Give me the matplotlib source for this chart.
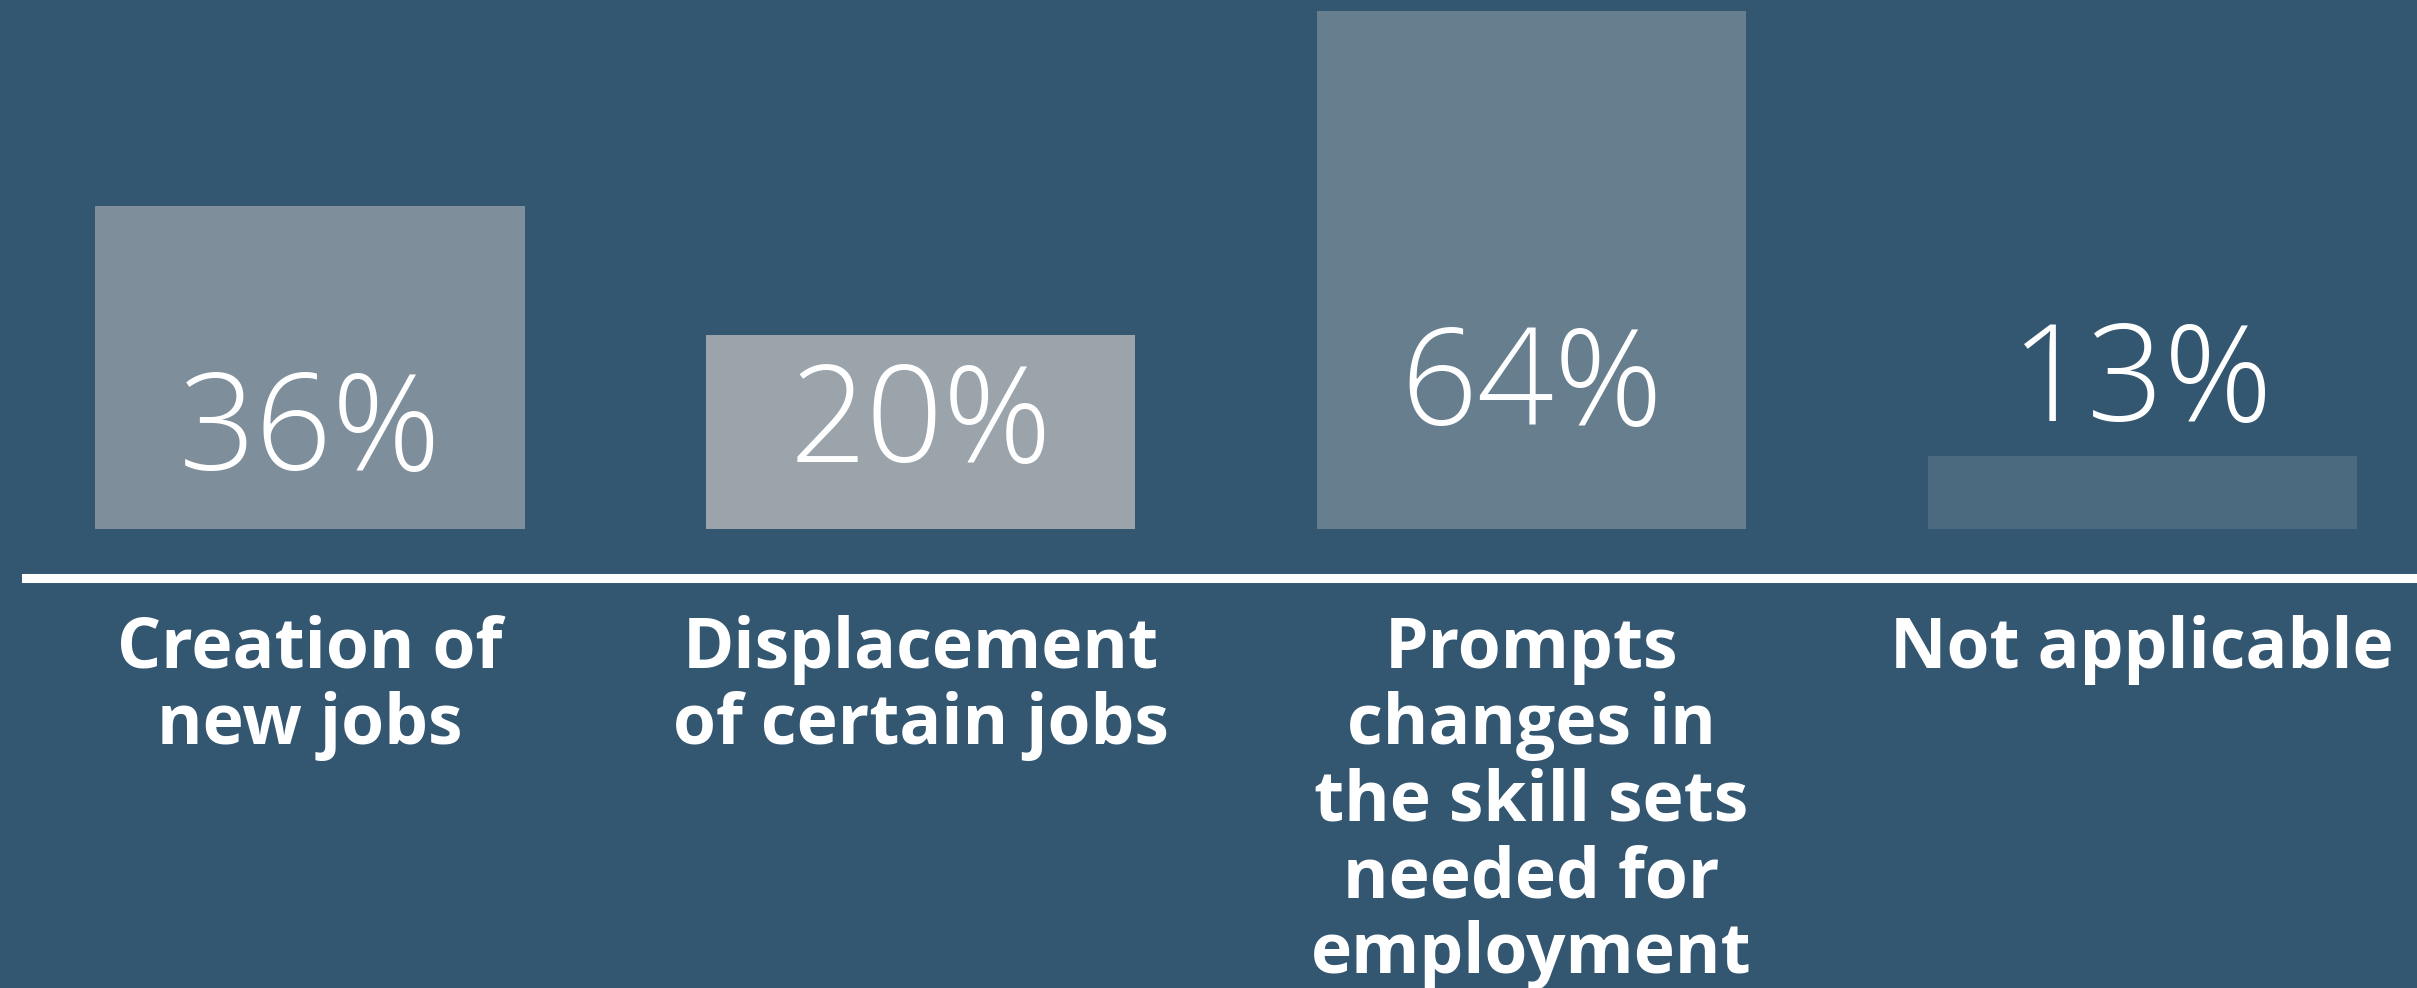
import numpy as np
import matplotlib
matplotlib.use("Agg")
import matplotlib.pyplot as plt

# --------------------------------
# data
# --------------------------------
categories = [
    "Creation of\nnew jobs",
    "Displacement\nof certain jobs",
    "Prompts\nchanges in\nthe skill sets\nneeded for\nemployment",
    "Not applicable",
]
values = [36, 20, 64, 13]            # printed percentages
bar_heights = [40, 24, 64, 9]        # drawn heights (the graphic is not to scale)

# layout / style
label_base = [7.3, 8.3, 12.9, 13.4]  # baseline of each percentage label
bar_colors = ["#7f8e9b", "#9ba4ab", "#677e8f", "#4b6a80"]
bg_color = "#345771"

fig = plt.figure(figsize=(24.17, 9.88), dpi=100, facecolor=bg_color)
ax = fig.add_axes([0, 0, 1, 1])
ax.set_facecolor(bg_color)

x = np.arange(len(categories))
ax.bar(x, bar_heights, width=0.703, color=bar_colors, edgecolor="none")

# baseline rule
ax.axhline(-6.0, xmin=26 / 2417, xmax=1, color="white", linewidth=6.5)

for xi, val, yb in zip(x, values, label_base):
    ax.text(xi, yb, f"{val}%", ha="center", va="baseline", color="white",
            fontsize=97, fontfamily="Open Sans", fontweight="light")

for xi, cat in zip(x, categories):
    ax.text(xi, -10.6, cat, ha="center", va="top", color="white",
            fontsize=50, fontfamily="Open Sans", fontweight="bold",
            linespacing=1.12, multialignment="center")

ax.set_xlim(-0.5076, 3.450)
ax.set_ylim(-56.7, 65.4)
ax.axis("off")

fig.savefig("out.png", dpi=100, facecolor=bg_color)
